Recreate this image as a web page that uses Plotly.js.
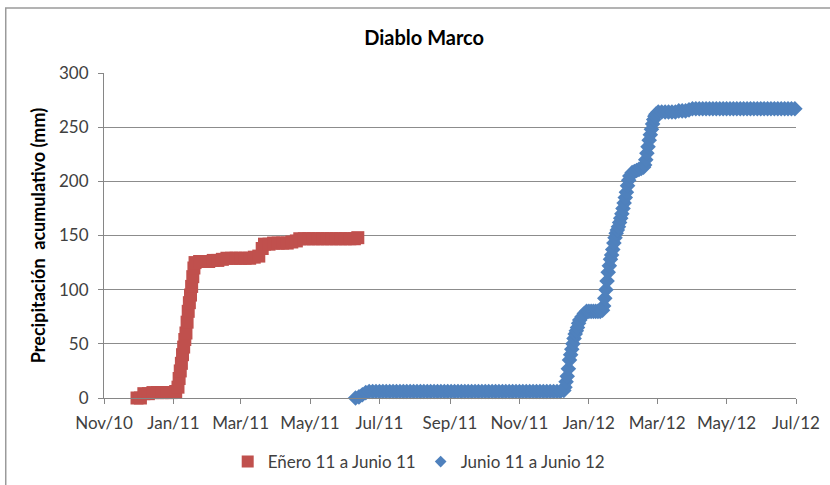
<!DOCTYPE html>
<html>
<head>
<meta charset="utf-8">
<script src="https://cdn.plot.ly/plotly-3.0.1.min.js"></script>
<style>html,body{margin:0;padding:0;background:#fff;}#chart{width:830px;height:485px;}</style>
</head>
<body>
<div id="chart"></div>
<script>
// ---- Data ----
const chartTitle = "Diablo Marco";
const yAxisTitle = "Precipitación  acumulativo (mm)";
const seriesNames = ["Eñero 11 a Junio 11", "Junio 11 a Junio 12"];

const redDates = [
  "2010-11-30","2010-12-03","2010-12-06","2010-12-10","2010-12-14","2010-12-18","2010-12-22","2010-12-26","2010-12-30",
  "2011-01-03","2011-01-05","2011-01-06","2011-01-07","2011-01-08","2011-01-09","2011-01-10","2011-01-11","2011-01-12","2011-01-13",
  "2011-01-14","2011-01-15","2011-01-16","2011-01-17","2011-01-18","2011-01-19","2011-01-20","2011-01-24","2011-01-28",
  "2011-02-01","2011-02-05","2011-02-09","2011-02-13","2011-02-17","2011-02-21","2011-02-25",
  "2011-03-01","2011-03-05","2011-03-09","2011-03-13","2011-03-17","2011-03-20","2011-03-22","2011-03-26","2011-03-30",
  "2011-04-03","2011-04-07","2011-04-11","2011-04-15","2011-04-19","2011-04-22","2011-04-26","2011-04-30",
  "2011-05-04","2011-05-08","2011-05-12","2011-05-16","2011-05-20","2011-05-24","2011-05-28",
  "2011-06-01","2011-06-05","2011-06-09","2011-06-12"
];
const redValues = [
  0,0,4,4,5,5,5,5,5,
  6,10,18,25,32,40,47,54,60,70,
  80,88,95,103,112,120,125,126,126,
  126,127,127,128,129,129,129,
  129,129,129,130,131,138,142,142,143,
  143,143,143,144,145,147,147,147,
  147,147,147,147,147,147,147,
  147,147,147,148
];

const blueDates = [
  "2011-06-10","2011-06-13","2011-06-16","2011-06-19","2011-06-22","2011-06-25","2011-06-28",
  "2011-07-01","2011-07-04","2011-07-07","2011-07-10","2011-07-13","2011-07-16","2011-07-19","2011-07-22","2011-07-25","2011-07-28","2011-07-31",
  "2011-08-03","2011-08-06","2011-08-09","2011-08-12","2011-08-15","2011-08-18","2011-08-21","2011-08-24","2011-08-27","2011-08-30",
  "2011-09-02","2011-09-05","2011-09-08","2011-09-11","2011-09-14","2011-09-17","2011-09-20","2011-09-23","2011-09-26","2011-09-29",
  "2011-10-02","2011-10-05","2011-10-08","2011-10-11","2011-10-14","2011-10-17","2011-10-20","2011-10-23","2011-10-26","2011-10-29",
  "2011-11-01","2011-11-04","2011-11-07","2011-11-10","2011-11-13","2011-11-16","2011-11-19","2011-11-22","2011-11-25","2011-11-28",
  "2011-12-01","2011-12-04","2011-12-07","2011-12-10","2011-12-11","2011-12-12","2011-12-13","2011-12-14","2011-12-15","2011-12-16","2011-12-17","2011-12-18",
  "2011-12-19","2011-12-20","2011-12-21","2011-12-22","2011-12-23","2011-12-24","2011-12-26","2011-12-28","2011-12-30",
  "2012-01-01","2012-01-03","2012-01-05","2012-01-07","2012-01-09","2012-01-11","2012-01-13","2012-01-14","2012-01-15","2012-01-16",
  "2012-01-17","2012-01-18","2012-01-19","2012-01-20","2012-01-21","2012-01-22","2012-01-23","2012-01-24","2012-01-25","2012-01-26",
  "2012-01-27","2012-01-28","2012-01-29","2012-01-30","2012-01-31",
  "2012-02-01","2012-02-02","2012-02-03","2012-02-04","2012-02-05","2012-02-06","2012-02-08","2012-02-10","2012-02-12","2012-02-14",
  "2012-02-16","2012-02-18","2012-02-19","2012-02-20","2012-02-21","2012-02-22","2012-02-23","2012-02-24","2012-02-25","2012-02-26",
  "2012-02-27","2012-02-28","2012-02-29",
  "2012-03-02","2012-03-05","2012-03-08","2012-03-11","2012-03-14","2012-03-17","2012-03-20","2012-03-23","2012-03-26","2012-03-29",
  "2012-04-01","2012-04-04","2012-04-07","2012-04-10","2012-04-13","2012-04-16","2012-04-19","2012-04-22","2012-04-25","2012-04-28",
  "2012-05-01","2012-05-04","2012-05-07","2012-05-10","2012-05-13","2012-05-16","2012-05-19","2012-05-22","2012-05-25","2012-05-28",
  "2012-05-31","2012-06-03","2012-06-06","2012-06-09","2012-06-12","2012-06-15","2012-06-18","2012-06-21","2012-06-24","2012-06-27","2012-06-30"
];
const blueValues = [
  0,1,3,5,6,6,6,
  6,6,6,6,6,6,6,6,6,6,6,
  6,6,6,6,6,6,6,6,6,6,
  6,6,6,6,6,6,6,6,6,6,
  6,6,6,6,6,6,6,6,6,6,
  6,6,6,6,6,6,6,6,6,6,
  6,6,6,7,10,15,20,27,35,40,45,50,
  55,59,62,65,69,72,75,78,80,
  80,80,80,80,80,80,81,85,92,100,
  108,116,122,128,132,137,143,148,152,155,
  158,162,166,170,175,
  180,185,190,196,201,205,208,209,210,211,
  212,213,215,220,226,232,238,243,248,253,
  257,260,262,
  264,264,264,264,264,264,265,265,265,266,
  267,267,267,267,267,267,267,267,267,267,
  267,267,267,267,267,267,267,267,267,267,
  267,267,267,267,267,267,267,267,267,267,267
];

const xRange = ["2010-11-01", "2012-07-01"];
const yRange = [0, 300];

// ---- Plot ----
const FONT = "Lato, 'Open Sans', 'DejaVu Sans', sans-serif";
const RED = "#C0504D", BLUE = "#4F81BD";
const traces = [
  {
    x: redDates, y: redValues, name: seriesNames[0], type: "scatter", mode: "markers",
    cliponaxis: false, showlegend: false,
    marker: {symbol: "square", size: 13, color: RED, line: {width: 0}}
  },
  {
    x: blueDates, y: blueValues, name: seriesNames[1], type: "scatter", mode: "markers",
    cliponaxis: false, showlegend: false,
    marker: {symbol: "diamond", size: 12, color: BLUE, line: {width: 0}}
  },
  // legend entries (symbol size as in the reference legend)
  {
    x: [null], y: [null], name: seriesNames[0], type: "scatter", mode: "markers",
    marker: {symbol: "square", size: 12, color: RED, line: {width: 0}}
  },
  {
    x: [null], y: [null], name: seriesNames[1], type: "scatter", mode: "markers",
    marker: {symbol: "diamond", size: 9, color: BLUE, line: {width: 0}}
  }
];

const layout = {
  width: 830, height: 485,
  margin: {l: 104, r: 34, t: 73, b: 87, autoexpand: false},
  paper_bgcolor: "#ffffff", plot_bgcolor: "#ffffff",
  font: {family: FONT, size: 17, color: "#404040"},
  showlegend: true,
  title: {
    text: "<b>" + chartTitle + "</b>",
    font: {family: FONT, size: 20, color: "#000000"},
    xref: "container", x: 0.511, xanchor: "center",
    yref: "container", y: 0.921, yanchor: "middle"
  },
  xaxis: {
    type: "date", range: xRange,
    tick0: "2010-11-01", dtick: "M2", tickformat: "%b/%y",
    showgrid: false, zeroline: false,
    showline: true, linecolor: "#868686", linewidth: 1,
    ticks: "outside", ticklen: 5, tickcolor: "#868686",
    ticklabelstandoff: 5,
    tickfont: {family: FONT, size: 17, color: "#404040"}
  },
  yaxis: {
    range: yRange, dtick: 50, tick0: 0,
    showgrid: true, gridcolor: "#8c8c8c", gridwidth: 1,
    zeroline: false,
    showline: true, linecolor: "#868686", linewidth: 1,
    ticks: "outside", ticklen: 5, tickcolor: "#868686",
    ticklabelstandoff: 6,
    tickfont: {family: FONT, size: 17, color: "#404040"},
    title: {text: "<b>" + yAxisTitle + "</b>", font: {family: FONT, size: 18, color: "#000000"}, standoff: 8}
  },
  legend: {
    orientation: "h", x: 0.4555, xanchor: "center", y: -0.197, yanchor: "middle",
    font: {family: FONT, size: 17, color: "#404040"},
    itemwidth: 30, tracegroupgap: 0, bgcolor: "rgba(0,0,0,0)"
  },
  shapes: [
    {type: "rect", xref: "paper", yref: "paper", x0: -0.142, x1: 1.2, y0: -0.5, y1: 1.2,
     line: {color: "#9a9a9a", width: 1.5}, fillcolor: "rgba(0,0,0,0)", layer: "below"}
  ]
};

Plotly.newPlot("chart", traces, layout, {staticPlot: true, displayModeBar: false});
</script>
</body>
</html>
